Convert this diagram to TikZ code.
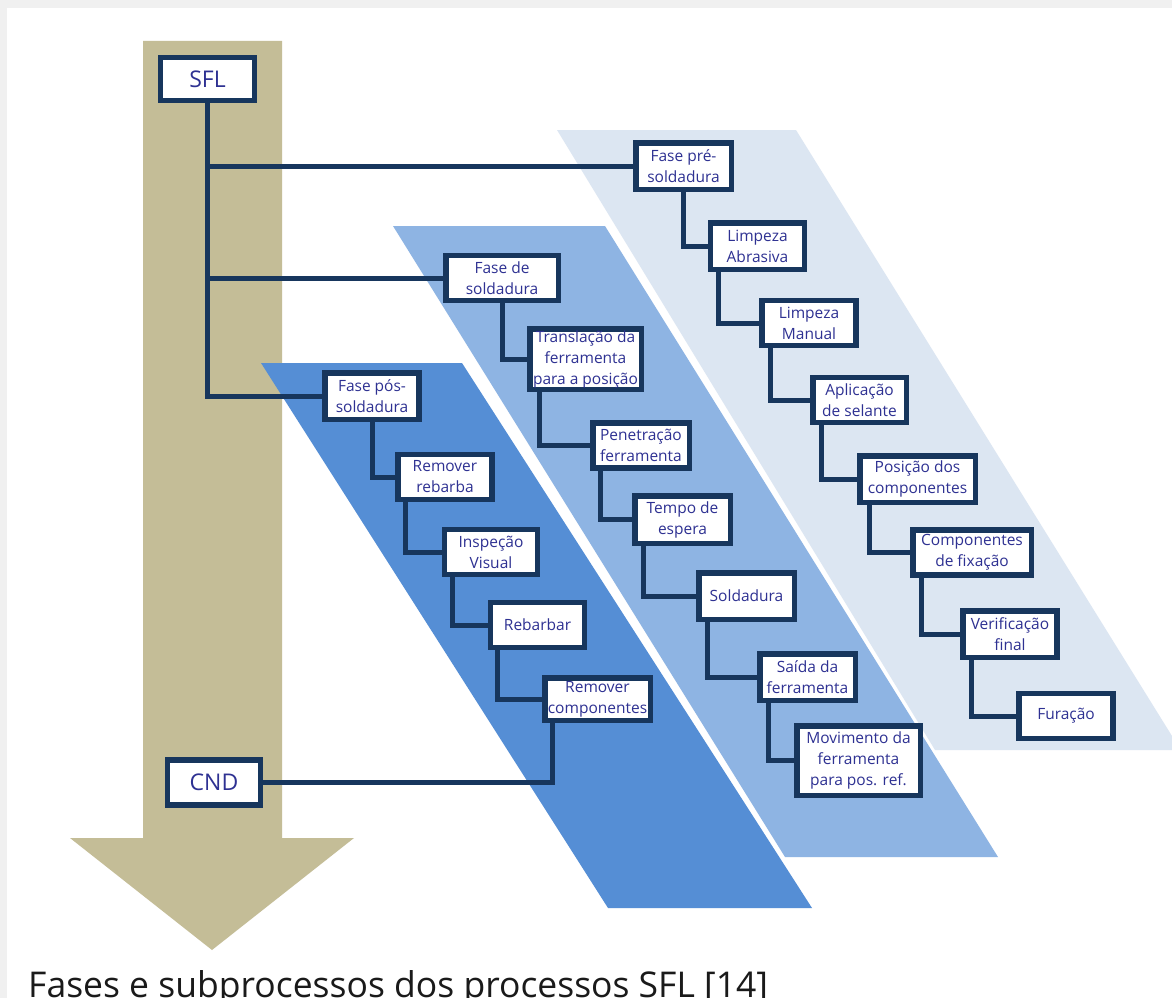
\documentclass[tikz,border=0pt]{standalone}
\usepackage{fontspec}
\setmainfont{Open Sans}

\definecolor{sfltan}{RGB}{196,189,151}
\definecolor{prefill}{RGB}{220,230,242}
\definecolor{soldfill}{RGB}{142,180,227}
\definecolor{posfill}{RGB}{85,142,213}
\definecolor{boxline}{RGB}{23,54,93}
\definecolor{boxtext}{RGB}{46,49,146}
\definecolor{pagegrey}{RGB}{240,240,240}
\definecolor{captext}{RGB}{26,26,26}

\tikzset{
  stagebox/.style={draw=boxline, line width=5.5pt, fill=white, text=boxtext,
    align=center, inner sep=0pt, minimum width=94pt, minimum height=45pt,
    font=\fontsize{15.5}{21}\selectfont},
  link/.style={draw=boxline, line width=5pt}
}

\begin{document}
\begin{tikzpicture}[x=1pt,y=-1pt]

      \useasboundingbox (0,0) rectangle (1172,998);
      \fill[pagegrey] (0,0) rectangle (1172,998);
      \fill[white] (7,8) rectangle (1172,998);

      % big arrow and the three phase bands
      \fill[sfltan] (143,41) -- (282,41) -- (282,838) -- (354,838) -- (212,950)
        -- (70,838) -- (143,838) -- cycle;
      \fill[prefill] (557,130) -- (796,130) -- (1172,736) -- (1172,750)
        -- (935,750) -- cycle;
      \fill[soldfill] (393,226) -- (605,226) -- (998,857) -- (785,857) -- cycle;
      \fill[posfill] (261,363) -- (462,363) -- (812,908) -- (608,908) -- cycle;

      \begin{scope}[every node/.style={stagebox}]
        \node (1)  at (207.5,79)  [font=\fontsize{23}{26}\selectfont, minimum height=42.5pt] {SFL};
        \node (2)  at (683.5,166) [minimum width=95.5pt, minimum height=46.5pt] {Fase pré-\\soldadura};
        \node (3)  at (757.5,246) [minimum height=46.5pt] {Limpeza\\Abrasiva};
        \node (4)  at (809,323)   {Limpeza\\Manual};
        \node (5)  at (859.5,400) [minimum width=93.5pt] {Aplicação\\de selante};
        \node (6)  at (917.5,479) [minimum width=115.5pt, minimum height=46.5pt] {Posição dos\\componentes};
        \node (7)  at (972,552.5) [minimum width=118.5pt] {Componentes\\de fixação};
        \node (8)  at (1010,634)  [minimum height=46.5pt] {Verificação\\final};
        \node (9)  at (1066,716)  {Furação};
        \node (10) at (502,278)   [minimum width=112.5pt] {Fase de\\soldadura};
        \node (11) at (585.5,359) [minimum width=111.5pt, minimum height=60.5pt] {Translação da\\ferramenta\\para a posição};
        \node (12) at (641,445.5) [minimum width=96.5pt] {Penetração\\ferramenta};
        \node (13) at (682.5,519.5) [minimum width=95.5pt, minimum height=47.5pt] {Tempo de\\espera};
        \node (14) at (746.5,596) [minimum width=95.5pt, minimum height=46.5pt] {Soldadura};
        \node (15) at (807.5,677) [minimum width=95.5pt, minimum height=46.5pt] {Saída da\\ferramenta};
        \node (16) at (858.5,760.5) [minimum width=123.5pt, minimum height=69.5pt] {Movimento da\\ferramenta\\para pos. ref.};
        \node (17) at (372,396)   [minimum height=46.5pt] {Fase pós-\\soldadura};
        \node (18) at (445,477)   {Remover\\rebarba};
        \node (19) at (491,552)   [minimum width=93pt] {Inspeção\\Visual};
        \node (20) at (537.5,625) {Rebarbar};
        \node (21) at (597.5,699) [minimum width=105.5pt, minimum height=42.5pt] {Remover\\componentes};
        \node (22) at (214,782.5) [font=\fontsize{23}{26}\selectfont, minimum width=93pt] {CND};
      \end{scope}

      \begin{scope}[every path/.style={link}]
        \draw (1.south) |- (2.west);
        \draw (1.south) |- (10.west);
        \draw (1.south) |- (17.west);

        \draw (2.south) |- (3.west);
        \draw ([xshift=11pt]3.south west) |- (4.west);
        \draw ([xshift=11pt]4.south west) |- (5.west);
        \draw ([xshift=11pt]5.south west) |- (6.west);
        \draw ([xshift=12pt]6.south west) |- (7.west);
        \draw ([xshift=11pt]7.south west) |- (8.west);
        \draw ([xshift=11pt]8.south west) |- (9.west);

        \draw (10.south) |- (11.west);
        \draw ([xshift=12pt]11.south west) |- (12.west);
        \draw ([xshift=10pt]12.south west) |- (13.west);
        \draw ([xshift=11pt]13.south west) |- (14.west);
        \draw ([xshift=11pt]14.south west) |- (15.west);
        \draw ([xshift=11pt]15.south west) |- (16.west);

        \draw (17.south) |- (18.west);
        \draw ([xshift=10pt]18.south west) |- (19.west);
        \draw ([xshift=11pt]19.south west) |- (20.west);
        \draw ([xshift=10pt]20.south west) |- (21.west);
        \draw ([xshift=10pt]21.south west) |- (22.east);
      \end{scope}

      \node (23) at (28,997) [anchor=base west, inner sep=0pt, text=captext,
        font=\fontsize{35.5}{40}\selectfont] {Fases e subprocessos dos processos SFL [14]};

    \end{tikzpicture}
\end{document}
